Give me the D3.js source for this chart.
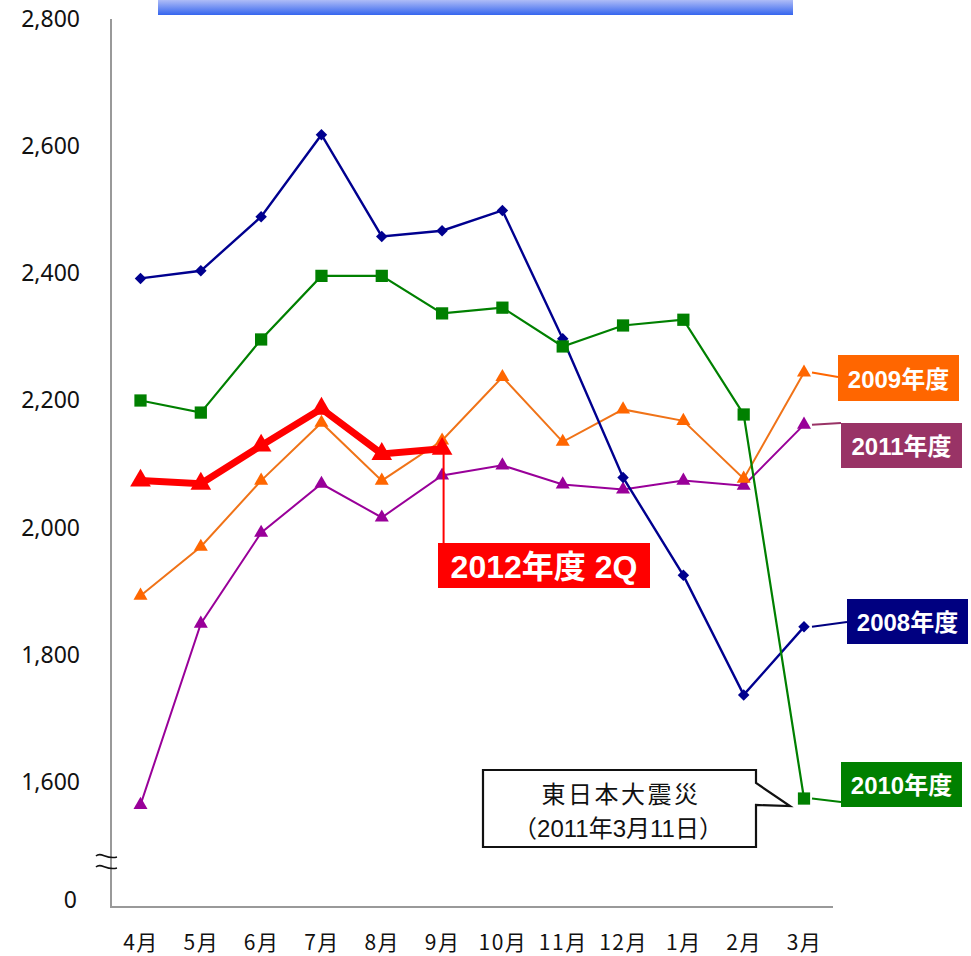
<!DOCTYPE html>
<html>
<head>
<meta charset="utf-8">
<script src="https://cdn.jsdelivr.net/npm/d3@7"></script>
<style>
  html, body { margin: 0; padding: 0; background: #fff; }
  svg { display: block; }
</style>
</head>
<body>
<svg id="chart" width="971" height="956"></svg>
<script>
// Monthly figures by fiscal year (April – March)
const months = ["4月", "5月", "6月", "7月", "8月", "9月", "10月", "11月", "12月", "1月", "2月", "3月"];
const yTicks = [1600, 1800, 2000, 2200, 2400, 2600, 2800];
const yZeroTick = [0];

const fy2008 = [2392, 2404, 2489, 2618, 2458, 2467, 2499, 2297, 2079, 1925, 1737, 1844];
const fy2009 = [1893, 1970, 2074, 2165, 2074, 2137, 2237, 2135, 2186, 2168, 2077, 2244];
const fy2010 = [2200, 2181, 2296, 2396, 2396, 2337, 2346, 2285, 2318, 2327, 2178, 1574];
const fy2011 = [1564, 1849, 1992, 2069, 2016, 2082, 2098, 2068, 2060, 2074, 2066, 2162];
const fy2012 = [2074, 2069, 2129, 2187, 2116, 2124];

const seriesNames = ["2008年度", "2009年度", "2010年度", "2011年度", "2012年度 2Q"];

const svg = d3.select("#chart");

// Value axis is broken below 1,600; the zero tick sits on its own short scale
const x = d3.scalePoint().domain(months).range([140.5, 804]);
const y = d3.scaleLinear().domain([1600, 2800]).range([782, 19]);
const yZero = d3.scaleLinear().domain([0, 1]).range([900, 899]);

// Title band at the top edge
const defs = svg.append("defs");
const grad = defs.append("linearGradient").attr("id", "band").attr("x1", 0).attr("y1", 0).attr("x2", 0).attr("y2", 1);
grad.append("stop").attr("offset", "0%").attr("stop-color", "#aebcf7");
grad.append("stop").attr("offset", "100%").attr("stop-color", "#3565ee");
svg.append("rect").attr("x", 158).attr("y", 0).attr("width", 635).attr("height", 15).attr("fill", "url(#band)");

// Axes
const axisColor = "#999999";
const tickFont = "'Noto Sans', 'DejaVu Sans', sans-serif";
function styleY(g) {
  g.select(".domain").remove();
  g.selectAll("text").attr("font-family", tickFont).attr("font-size", 23).attr("fill", "#111");
}
svg.append("g")
  .attr("transform", "translate(111,0)")
  .call(d3.axisLeft(y).tickValues(yTicks).tickFormat(d3.format(",")).tickSize(0).tickPadding(31))
  .call(styleY);
svg.append("g")
  .attr("transform", "translate(111,0)")
  .call(d3.axisLeft(yZero).tickValues(yZeroTick).tickFormat(d3.format(",")).tickSize(0).tickPadding(34))
  .call(styleY);

const xAxis = svg.append("g")
  .attr("transform", "translate(0,907)")
  .call(d3.axisBottom(x).tickSize(0).tickPadding(28));
xAxis.select(".domain").remove();
xAxis.selectAll("text")
  .attr("font-family", "'Noto Sans CJK JP', 'Noto Sans', sans-serif")
  .attr("font-size", 21)
  .attr("letter-spacing", 1.5)
  .attr("fill", "#111");

svg.append("line").attr("x1", 111).attr("x2", 111).attr("y1", 19).attr("y2", 907)
  .attr("stroke", axisColor).attr("stroke-width", 2);
svg.append("line").attr("x1", 110).attr("x2", 833).attr("y1", 907).attr("y2", 907)
  .attr("stroke", axisColor).attr("stroke-width", 2);

// Axis break marks
[857, 868].forEach(yy => {
  svg.append("path")
    .attr("d", `M96,${yy - 1} C101,${yy - 6} 106,${yy + 3} 117,${yy}`)
    .attr("fill", "none").attr("stroke", "#111").attr("stroke-width", 1.6);
});

// Series drawing
const line = d3.line().x((d, i) => x(months[i])).y(d => y(d));

function drawSeries(values, cfg) {
  const g = svg.append("g");
  g.append("path").datum(values)
    .attr("d", line)
    .attr("fill", "none")
    .attr("stroke", cfg.stroke)
    .attr("stroke-width", cfg.width)
    .attr("stroke-linejoin", "miter");
  g.selectAll("path.pt").data(values).join("path")
    .attr("class", "pt")
    .attr("d", d3.symbol().type(cfg.symbol).size(cfg.size))
    .attr("transform", (d, i) => `translate(${x(months[i])},${y(d)}) rotate(${cfg.rotate || 0})`)
    .attr("fill", cfg.fill);
}

drawSeries(fy2011, { stroke: "#990099", fill: "#990099", width: 2, symbol: d3.symbolTriangle, size: 85 });
drawSeries(fy2009, { stroke: "#f07318", fill: "#ff6600", width: 2, symbol: d3.symbolTriangle, size: 85 });
drawSeries(fy2008, { stroke: "#00008f", fill: "#00008f", width: 2.4, symbol: d3.symbolSquare, size: 66, rotate: 45 });
drawSeries(fy2010, { stroke: "#008000", fill: "#008000", width: 2.2, symbol: d3.symbolSquare, size: 150 });

// 2012 Q2 callout leader
const last2012 = fy2012.length - 1;
svg.append("line")
  .attr("x1", x(months[last2012]) + 1.5).attr("x2", x(months[last2012]) + 1.5)
  .attr("y1", y(fy2012[last2012])).attr("y2", 543)
  .attr("stroke", "#ff0000").attr("stroke-width", 2);

drawSeries(fy2012, { stroke: "#ff0000", fill: "#ff0000", width: 7, symbol: d3.symbolTriangle, size: 185 });

// Series labels
const boldFont = "'Liberation Sans', Arial, 'Noto Sans CJK JP', sans-serif";
function seriesLabel(text, values, box, color, fontSize) {
  const lx = x(months[values.length - 1]) + 8;
  const ly = y(values[values.length - 1]);
  svg.append("line")
    .attr("x1", lx).attr("y1", ly).attr("x2", box.x).attr("y2", box.leadY)
    .attr("stroke", color).attr("stroke-width", 2);
  svg.append("rect").attr("x", box.x).attr("y", box.y).attr("width", box.w).attr("height", box.h).attr("fill", color);
  svg.append("text")
    .attr("x", box.x + box.w / 2).attr("y", box.y + box.h / 2 + 1)
    .attr("text-anchor", "middle").attr("dominant-baseline", "central")
    .attr("font-family", boldFont).attr("font-weight", "bold")
    .attr("font-size", fontSize).attr("fill", "#fff")
    .text(text);
}

seriesLabel(seriesNames[1], fy2009, { x: 838, y: 355, w: 121, h: 46, leadY: 377 }, "#ff6600", 24);
seriesLabel(seriesNames[3], fy2011, { x: 841, y: 423, w: 121, h: 45, leadY: 423 }, "#993366", 24);
seriesLabel(seriesNames[0], fy2008, { x: 847, y: 599, w: 121, h: 45, leadY: 622 }, "#000080", 24);
seriesLabel(seriesNames[2], fy2010, { x: 841, y: 762, w: 121, h: 45, leadY: 802 }, "#008000", 24);

// 2012 label box
svg.append("rect").attr("x", 438).attr("y", 543).attr("width", 212).attr("height", 45).attr("fill", "#ff0000");
svg.append("text")
  .attr("x", 544).attr("y", 567)
  .attr("text-anchor", "middle").attr("dominant-baseline", "central")
  .attr("font-family", boldFont).attr("font-weight", "bold")
  .attr("font-size", 32).attr("fill", "#fff")
  .text(seriesNames[4]);

// Earthquake callout
svg.append("path")
  .attr("d", "M483,770 L756,770 L756,783 L790,806 L756,805 L756,847 L483,847 Z")
  .attr("fill", "#fff").attr("stroke", "#111").attr("stroke-width", 2.2).attr("stroke-linejoin", "miter");
const calloutFont = "'Liberation Sans', Arial, 'Noto Sans CJK JP', sans-serif";
svg.append("text")
  .attr("x", 621).attr("y", 794)
  .attr("text-anchor", "middle").attr("dominant-baseline", "central")
  .attr("font-family", calloutFont).attr("font-size", 24).attr("letter-spacing", 2.5).attr("fill", "#111")
  .text("東日本大震災");
svg.append("text")
  .attr("x", 618).attr("y", 828)
  .attr("text-anchor", "middle").attr("dominant-baseline", "central")
  .attr("font-family", calloutFont).attr("font-size", 24).attr("fill", "#111")
  .text("（2011年3月11日）");
</script>
</body>
</html>
